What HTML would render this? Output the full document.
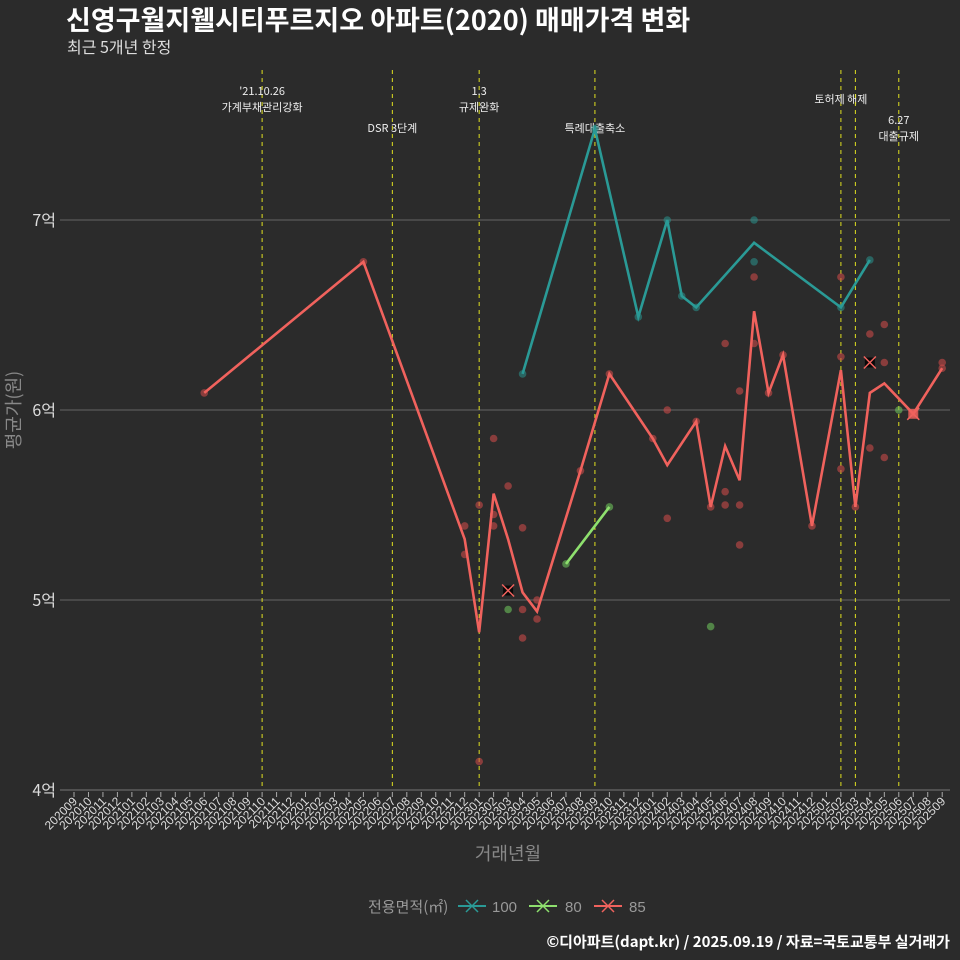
<!DOCTYPE html>
<html><head><meta charset="utf-8">
<style>
html,body{margin:0;padding:0;background:#2b2b2b;}
svg{display:block;font-family:"Liberation Sans","Noto Sans CJK KR",sans-serif;}
.kr{font-family:"Noto Sans CJK KR","Liberation Sans",sans-serif;}
</style></head>
<body>
<svg id="chart" width="960" height="960" viewBox="0 0 960 960">
<rect width="960" height="960" fill="#2b2b2b"/>
<text class="kr" x="66" y="30" fill="#fff" font-size="27" font-weight="bold">신영구월지웰시티푸르지오 아파트(2020) 매매가격 변화</text>
<text class="kr" x="67" y="53" fill="#ddd" font-size="16">최근 5개년 한정</text>
<text class="kr" transform="translate(20,410) rotate(-90)" text-anchor="middle" fill="#888" font-size="18">평균가(원)</text>
<text class="kr" x="508" y="860" text-anchor="middle" fill="#888" font-size="18">거래년월</text>
<g>
<text class="kr" x="368" y="912" fill="#999" font-size="15">전용면적(㎡)</text>
<g><line x1="458" y1="906" x2="486" y2="906" stroke="#2a9a96" stroke-width="2"/><path d="M466,900l12,12M478,900l-12,12" stroke="#2a9a96" stroke-width="1.5"/><text x="492" y="912" fill="#999" font-size="15">100</text></g>
<g><line x1="529" y1="906" x2="557" y2="906" stroke="#8ee06e" stroke-width="2"/><path d="M537,900l12,12M549,900l-12,12" stroke="#8ee06e" stroke-width="1.5"/><text x="565" y="912" fill="#999" font-size="15">80</text></g>
<g><line x1="594" y1="906" x2="622" y2="906" stroke="#f0625d" stroke-width="2"/><path d="M602,900l12,12M614,900l-12,12" stroke="#f0625d" stroke-width="1.5"/><text x="629" y="912" fill="#999" font-size="15">85</text></g>
</g>
<text class="kr" x="950" y="947" text-anchor="end" fill="#fff" font-size="15" font-weight="bold">©디아파트(dapt.kr) / 2025.09.19 / 자료=국토교통부 실거래가</text>
<g id="plot"></g>
</svg>
<script>
const months = [];
for (let y=2020,m=9; y*100+m<=202509; m++){ if(m>12){m=1;y++;} if(y*100+m>202509)break; months.push(String(y)+String(m).padStart(2,'0')); }
const yTicks = [4,5,6,7];
const yTickLabels = ['4억','5억','6억','7억'];
const s100Months = ['202304','202309','202312','202402','202403','202404','202408','202502','202504'];
const s100Values = [6.19,7.48,6.49,7.0,6.6,6.54,6.88,6.54,6.79];
const s80Months = ['202307','202310'];
const s80Values = [5.19,5.49];
const s85Months = ['202106','202205','202212','202301','202302','202303','202304','202305','202308','202310','202401','202402','202404','202405','202406','202407','202408','202409','202410','202412','202502','202503','202504','202505','202507','202509'];
const s85Values = [6.09,6.78,5.32,4.83,5.56,5.32,5.04,4.94,5.68,6.19,5.85,5.71,5.94,5.49,5.81,5.63,6.52,6.09,6.29,5.39,6.21,5.49,6.09,6.14,5.98,6.22];
const pts100Months = ['202304','202309','202312','202402','202403','202404','202408','202408','202502','202504'];
const pts100Values = [6.19,7.48,6.49,7.0,6.6,6.54,7.0,6.78,6.54,6.79];
const pts80Months = ['202303','202307','202310','202405','202506'];
const pts80Values = [4.95,5.19,5.49,4.86,6.0];
const pts85Months = ['202106','202205','202212','202212','202301','202301','202302','202302','202302','202303','202304','202304','202304','202305','202305','202308','202310','202401','202402','202402','202404','202405','202406','202406','202406','202407','202407','202407','202408','202408','202409','202410','202412','202502','202502','202502','202503','202504','202504','202505','202505','202505','202507','202509','202509'];
const pts85Values = [6.09,6.78,5.39,5.24,5.5,4.15,5.85,5.45,5.39,5.6,5.38,4.95,4.8,5.0,4.9,5.68,6.19,5.85,6.0,5.43,5.94,5.49,6.35,5.57,5.5,6.1,5.5,5.29,6.7,6.35,6.09,6.29,5.39,6.7,6.28,5.69,5.49,6.4,5.8,6.45,6.25,5.75,5.98,6.25,6.22];
const crossMonths = ['202303','202504','202507'];
const crossValues = [5.05,6.25,5.98];
const crossFills = ['#000','#000','#f0625d'];
const eventMonths = ['202110','202207','202301','202309','202502','202503','202506'];
const eventLabels = [["'21.10.26","가계부채관리강화"],["DSR 3단계"],["1.3","규제완화"],["특례대출축소"],["토허제 해제"],[],["6.27","대출규제"]];
const eventLabelY = [95,132,95,132,103,0,124];

const NS='http://www.w3.org/2000/svg';
const g=document.getElementById('plot');
const X0=74, DX=14.47, Y0=790, DY=190;
const xs=m=>X0+months.indexOf(m)*DX;
const ys=v=>Y0-(v-4)*DY;
function mk(t,a,p){const e=document.createElementNS(NS,t);for(const k in a)e.setAttribute(k,a[k]);(p||g).appendChild(e);return e;}

yTicks.forEach((v,i)=>{
  const l=mk('line',{x1:60,x2:950,y1:ys(v),y2:ys(v),stroke:i===0?'#777':'#666','stroke-width':1});
  
  
  const t=mk('text',{x:56,y:ys(v)+6,'text-anchor':'end',fill:'#ddd','font-size':16,'class':'kr'});
  t.textContent=yTickLabels[i];
  
  
});
months.forEach(m=>{
  const x=xs(m);
  const tk=mk('line',{x1:x,x2:x,y1:792,y2:797,stroke:'#aaa','stroke-width':1});
  
  
  const t=mk('text',{transform:`translate(${x+4},${802}) rotate(-45)`,'text-anchor':'end',fill:'#ddd','font-size':12});
  t.textContent=m;
  
  
});
eventMonths.forEach((m,i)=>{
  const x=xs(m);
  const l=mk('line',{x1:x,x2:x,y1:70,y2:790,stroke:'#e0e020','stroke-width':1,'stroke-dasharray':'4,4'});
  
  
  eventLabels[i].forEach((s,j)=>{
    const t=mk('text',{x:x,y:eventLabelY[i]+j*16,'text-anchor':'middle',fill:'#eee','font-size':11,'class':'kr'});
    t.textContent=s;
    
    
  });
});
function scat(ms,vs,c,name){
  ms.forEach((m,i)=>{
    const e=mk('circle',{cx:xs(m),cy:ys(vs[i]),r:3.8,fill:c,'fill-opacity':0.6});
    
    
  });
}
function line(ms,vs,c,name){
  const p=mk('polyline',{points:ms.map((m,i)=>xs(m)+','+ys(vs[i])).join(' '),fill:'none',stroke:c,'stroke-width':2.6,'stroke-linejoin':'miter'});
  
  
}
scat(pts85Months,pts85Values,'#c84a48','point-85');
scat(pts80Months,pts80Values,'#6cc05a','point-80');
scat(pts100Months,pts100Values,'#2a8a86','point-100');
line(s85Months,s85Values,'#f0625d','line-85');
line(s100Months,s100Values,'#2a9a96','line-100');
line(s80Months,s80Values,'#8ee06e','line-80');
crossMonths.forEach((m,i)=>{
  const x=xs(m),y=ys(crossValues[i]);
  const r=mk('rect',{x:x-5,y:y-5,width:10,height:10,fill:crossFills[i],'fill-opacity':0.8});
  
  
  const p=mk('path',{d:`M${x-6},${y-6}L${x+6},${y+6}M${x+6},${y-6}L${x-6},${y+6}`,stroke:'#f0625d','stroke-width':1.5});
  
  
});
</script>
</body></html>
